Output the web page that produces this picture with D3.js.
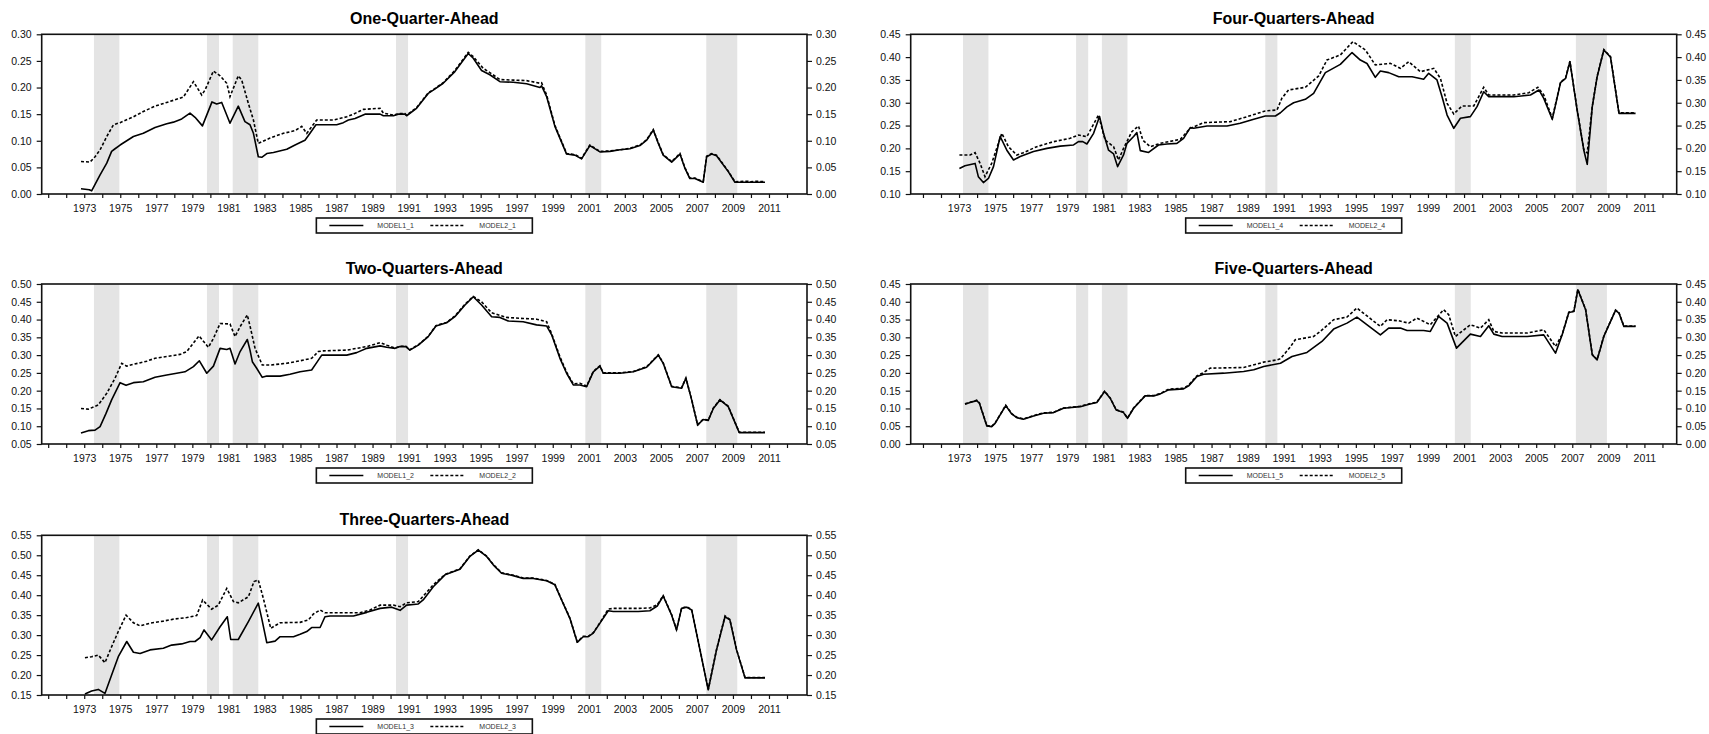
<!DOCTYPE html>
<html>
<head>
<meta charset="utf-8">
<script src="https://cdn.jsdelivr.net/npm/d3@7"></script>
<style>
  html, body { margin: 0; padding: 0; background: #fff; }
  svg { display: block; font-family: "Liberation Sans", Arial, sans-serif; }
</style>
</head>
<body>
<svg id="chart" width="1709" height="734"></svg>
<script>
// ---- Data: [decimal year, value] ----
const MODEL1_1 = [[1972.90,0.010],[1973.36,0.008],[1973.49,0.006],[1973.96,0.036],[1974.33,0.058],[1974.60,0.080],[1974.79,0.085],[1975.07,0.092],[1975.81,0.108],[1976.36,0.114],[1977.01,0.125],[1977.66,0.132],[1978.03,0.135],[1978.49,0.141],[1978.95,0.152],[1979.23,0.144],[1979.64,0.128],[1980.17,0.173],[1980.43,0.169],[1980.71,0.172],[1981.17,0.133],[1981.63,0.165],[1982.00,0.136],[1982.28,0.130],[1982.47,0.114],[1982.74,0.070],[1982.93,0.069],[1983.21,0.076],[1983.58,0.078],[1984.32,0.084],[1984.78,0.092],[1985.15,0.098],[1985.33,0.101],[1985.61,0.114],[1985.94,0.130],[1987.09,0.130],[1987.46,0.134],[1987.74,0.139],[1988.11,0.142],[1988.66,0.150],[1989.50,0.150],[1989.68,0.147],[1990.24,0.147],[1990.51,0.150],[1990.88,0.150],[1990.97,0.147],[1991.52,0.161],[1992.17,0.189],[1992.45,0.195],[1993.00,0.208],[1993.65,0.230],[1994.39,0.264],[1994.67,0.255],[1995.13,0.232],[1995.59,0.224],[1996.15,0.211],[1996.89,0.210],[1997.63,0.207],[1998.37,0.200],[1998.46,0.203],[1998.74,0.183],[1999.20,0.127],[1999.85,0.075],[2000.31,0.073],[2000.68,0.066],[2001.14,0.091],[2001.70,0.079],[2002.25,0.080],[2002.81,0.083],[2003.36,0.085],[2003.92,0.091],[2004.29,0.101],[2004.66,0.120],[2004.94,0.095],[2005.21,0.073],[2005.68,0.060],[2006.14,0.075],[2006.42,0.048],[2006.69,0.029],[2006.97,0.029],[2007.43,0.022],[2007.62,0.070],[2007.90,0.075],[2008.17,0.072],[2008.82,0.042],[2009.19,0.022],[2010.02,0.022],[2010.86,0.022]];
const MODEL2_1 = [[1972.90,0.061],[1973.40,0.060],[1973.68,0.070],[1973.96,0.083],[1974.33,0.108],[1974.70,0.130],[1975.07,0.134],[1975.81,0.145],[1976.36,0.155],[1977.01,0.165],[1977.66,0.172],[1978.12,0.177],[1978.58,0.182],[1979.14,0.211],[1979.60,0.186],[1979.78,0.195],[1980.25,0.231],[1980.62,0.222],[1980.99,0.208],[1981.17,0.183],[1981.63,0.222],[1981.82,0.214],[1982.19,0.170],[1982.47,0.139],[1982.74,0.095],[1983.39,0.105],[1984.13,0.114],[1984.78,0.119],[1985.15,0.127],[1985.43,0.114],[1985.98,0.139],[1986.91,0.139],[1987.65,0.145],[1988.02,0.150],[1988.57,0.159],[1989.50,0.161],[1989.68,0.152],[1990.24,0.148],[1990.51,0.151],[1990.88,0.151],[1990.97,0.148],[1991.52,0.162],[1992.17,0.190],[1992.45,0.196],[1993.00,0.209],[1993.65,0.232],[1994.39,0.266],[1994.67,0.258],[1995.22,0.236],[1995.59,0.228],[1996.15,0.215],[1996.89,0.214],[1997.63,0.213],[1998.37,0.208],[1998.46,0.209],[1998.74,0.186],[1999.20,0.129],[1999.85,0.076],[2000.31,0.074],[2000.68,0.067],[2001.14,0.092],[2001.70,0.080],[2002.25,0.081],[2002.81,0.083],[2003.36,0.086],[2003.92,0.092],[2004.29,0.102],[2004.66,0.121],[2004.94,0.096],[2005.21,0.074],[2005.68,0.061],[2006.14,0.076],[2006.42,0.049],[2006.69,0.030],[2006.97,0.030],[2007.43,0.023],[2007.62,0.071],[2007.90,0.076],[2008.17,0.073],[2008.82,0.043],[2009.19,0.023],[2009.93,0.024],[2010.02,0.023],[2010.40,0.024],[2010.86,0.023]];

const MODEL1_2 = [[1972.90,0.081],[1973.31,0.0875],[1973.68,0.089],[1973.96,0.099],[1974.29,0.136],[1974.60,0.174],[1975.07,0.2225],[1975.40,0.215],[1975.81,0.2225],[1976.36,0.225],[1977.01,0.2375],[1977.66,0.244],[1978.21,0.249],[1978.67,0.253],[1979.14,0.2675],[1979.47,0.284],[1979.88,0.249],[1980.25,0.269],[1980.62,0.319],[1980.99,0.316],[1981.17,0.319],[1981.45,0.275],[1981.73,0.310],[1982.13,0.344],[1982.28,0.314],[1982.41,0.2815],[1982.65,0.263],[1982.96,0.2375],[1983.21,0.241],[1983.95,0.241],[1984.50,0.246],[1985.06,0.253],[1985.70,0.258],[1985.98,0.279],[1986.26,0.300],[1987.65,0.300],[1988.20,0.307],[1988.76,0.319],[1989.50,0.326],[1989.87,0.322],[1990.33,0.319],[1990.60,0.324],[1990.93,0.324],[1991.15,0.314],[1991.62,0.328],[1992.17,0.352],[1992.60,0.382],[1993.19,0.391],[1993.65,0.408],[1994.21,0.441],[1994.67,0.464],[1995.13,0.441],[1995.69,0.408],[1996.15,0.406],[1996.61,0.396],[1997.44,0.394],[1998.18,0.385],[1998.74,0.382],[1999.02,0.357],[1999.48,0.291],[1999.85,0.249],[2000.22,0.216],[2000.59,0.216],[2000.96,0.211],[2001.33,0.253],[2001.70,0.269],[2001.88,0.249],[2002.81,0.249],[2003.55,0.253],[2004.29,0.266],[2004.94,0.300],[2005.21,0.277],[2005.68,0.211],[2006.23,0.207],[2006.47,0.235],[2006.79,0.174],[2007.12,0.103],[2007.43,0.119],[2007.71,0.116],[2007.99,0.150],[2008.36,0.174],[2008.82,0.155],[2009.43,0.082],[2010.86,0.082]];
const MODEL2_2 = [[1972.90,0.150],[1973.31,0.148],[1973.86,0.160],[1974.33,0.1925],[1974.79,0.235],[1975.16,0.277],[1975.44,0.269],[1975.81,0.274],[1976.55,0.283],[1977.01,0.291],[1977.66,0.296],[1978.40,0.302],[1978.77,0.310],[1979.45,0.354],[1979.97,0.322],[1980.25,0.347],[1980.62,0.389],[1981.17,0.3875],[1981.45,0.352],[1981.73,0.380],[1982.13,0.413],[1982.28,0.382],[1982.56,0.319],[1982.96,0.272],[1983.39,0.272],[1984.32,0.277],[1985.06,0.284],[1985.70,0.291],[1986.07,0.310],[1986.35,0.312],[1987.65,0.314],[1988.20,0.319],[1988.76,0.324],[1989.50,0.335],[1989.87,0.328],[1990.33,0.320],[1990.60,0.325],[1990.93,0.325],[1991.15,0.315],[1991.62,0.329],[1992.17,0.353],[1992.60,0.383],[1993.19,0.392],[1993.65,0.410],[1994.21,0.443],[1994.67,0.465],[1995.13,0.450],[1995.69,0.419],[1996.52,0.406],[1997.44,0.403],[1998.18,0.401],[1998.74,0.394],[1999.02,0.360],[1999.48,0.295],[1999.85,0.252],[2000.22,0.219],[2000.59,0.221],[2000.96,0.213],[2001.33,0.254],[2001.70,0.270],[2001.88,0.250],[2002.81,0.250],[2003.55,0.254],[2004.29,0.267],[2004.94,0.301],[2005.21,0.278],[2005.68,0.212],[2006.23,0.208],[2006.47,0.236],[2006.79,0.175],[2007.12,0.104],[2007.43,0.120],[2007.71,0.117],[2007.99,0.151],[2008.36,0.175],[2008.82,0.156],[2009.43,0.083],[2010.86,0.083]];

const MODEL1_3 = [[1973.12,0.1525],[1973.49,0.160],[1973.86,0.164],[1974.23,0.154],[1974.60,0.200],[1974.97,0.246],[1975.44,0.284],[1975.81,0.257],[1976.18,0.254],[1976.73,0.263],[1977.47,0.267],[1977.93,0.275],[1978.49,0.278],[1978.95,0.284],[1979.23,0.284],[1979.51,0.294],[1979.73,0.313],[1980.15,0.288],[1980.62,0.321],[1981.02,0.346],[1981.21,0.289],[1981.63,0.289],[1982.19,0.334],[1982.74,0.380],[1982.93,0.342],[1983.21,0.281],[1983.67,0.285],[1983.95,0.296],[1984.69,0.296],[1985.06,0.302],[1985.43,0.309],[1985.70,0.319],[1986.17,0.319],[1986.44,0.346],[1986.72,0.348],[1988.02,0.348],[1988.76,0.357],[1989.50,0.367],[1990.14,0.370],[1990.61,0.362],[1990.97,0.375],[1991.62,0.378],[1991.89,0.388],[1992.45,0.421],[1993.10,0.451],[1993.93,0.465],[1994.48,0.497],[1994.95,0.513],[1995.41,0.497],[1995.78,0.476],[1996.24,0.455],[1996.89,0.449],[1997.44,0.442],[1998.00,0.442],[1998.74,0.436],[1999.20,0.426],[1999.57,0.388],[2000.03,0.342],[2000.44,0.282],[2000.77,0.296],[2001.05,0.296],[2001.33,0.305],[2001.70,0.330],[2002.16,0.361],[2002.44,0.359],[2003.83,0.359],[2004.47,0.361],[2004.88,0.373],[2005.21,0.398],[2005.68,0.350],[2005.95,0.313],[2006.23,0.367],[2006.51,0.370],[2006.79,0.363],[2007.25,0.263],[2007.71,0.163],[2008.17,0.263],[2008.64,0.346],[2008.91,0.338],[2009.28,0.263],[2009.75,0.193],[2010.86,0.193]];
const MODEL2_3 = [[1973.12,0.2435],[1973.49,0.246],[1973.86,0.250],[1974.23,0.231],[1974.60,0.271],[1974.97,0.309],[1975.40,0.350],[1975.81,0.331],[1976.18,0.323],[1976.73,0.330],[1977.47,0.335],[1978.03,0.340],[1978.77,0.344],[1979.32,0.349],[1979.65,0.388],[1980.15,0.365],[1980.52,0.375],[1980.99,0.417],[1981.36,0.384],[1981.63,0.381],[1982.19,0.396],[1982.50,0.434],[1982.74,0.438],[1983.02,0.392],[1983.43,0.317],[1983.95,0.331],[1985.06,0.332],[1985.52,0.338],[1985.80,0.353],[1986.17,0.363],[1986.44,0.356],[1988.39,0.356],[1988.94,0.363],[1989.50,0.375],[1990.24,0.375],[1990.61,0.371],[1990.97,0.381],[1991.62,0.384],[1992.45,0.426],[1993.10,0.452],[1993.93,0.466],[1994.48,0.498],[1994.95,0.514],[1995.41,0.498],[1995.78,0.477],[1996.24,0.456],[1996.89,0.450],[1997.44,0.443],[1998.00,0.443],[1998.74,0.437],[1999.20,0.427],[1999.57,0.389],[2000.03,0.343],[2000.44,0.283],[2000.77,0.297],[2001.05,0.297],[2001.33,0.306],[2001.70,0.331],[2002.16,0.365],[2002.44,0.367],[2003.83,0.367],[2004.47,0.368],[2004.88,0.376],[2005.21,0.399],[2005.68,0.351],[2005.95,0.314],[2006.23,0.368],[2006.51,0.371],[2006.79,0.364],[2007.25,0.264],[2007.71,0.164],[2008.17,0.264],[2008.64,0.348],[2008.91,0.339],[2009.28,0.264],[2009.75,0.194],[2010.86,0.194]];

const MODEL1_4 = [[1973.42,0.156],[1973.73,0.162],[1974.29,0.167],[1974.47,0.138],[1974.75,0.125],[1975.03,0.134],[1975.31,0.160],[1975.68,0.226],[1976.05,0.196],[1976.42,0.1745],[1976.79,0.182],[1977.53,0.193],[1978.27,0.200],[1979.01,0.205],[1979.75,0.2075],[1980.02,0.2147],[1980.26,0.2147],[1980.49,0.2096],[1980.86,0.233],[1981.19,0.270],[1981.41,0.233],[1981.69,0.196],[1981.97,0.1877],[1982.19,0.160],[1982.52,0.1855],[1982.71,0.211],[1983.08,0.226],[1983.26,0.2345],[1983.45,0.195],[1983.91,0.191],[1984.46,0.2074],[1984.93,0.2096],[1985.48,0.211],[1985.85,0.222],[1986.22,0.2455],[1986.41,0.244],[1987.15,0.249],[1988.26,0.249],[1988.99,0.255],[1989.74,0.264],[1990.38,0.271],[1990.94,0.271],[1991.22,0.278],[1991.58,0.291],[1991.95,0.300],[1992.60,0.3075],[1993.06,0.3207],[1993.71,0.366],[1994.54,0.384],[1995.19,0.410],[1995.65,0.3935],[1996.02,0.386],[1996.48,0.3557],[1996.76,0.3696],[1997.22,0.366],[1997.78,0.357],[1998.52,0.357],[1999.16,0.3514],[1999.44,0.3645],[1999.90,0.350],[2000.18,0.3133],[2000.46,0.273],[2000.83,0.244],[2001.20,0.266],[2001.75,0.2695],[2002.12,0.2914],[2002.49,0.324],[2002.77,0.3133],[2004.16,0.3133],[2005.08,0.317],[2005.55,0.328],[2005.82,0.3096],[2006.29,0.2637],[2006.75,0.344],[2007.03,0.3535],[2007.27,0.390],[2007.67,0.284],[2008.04,0.196],[2008.23,0.165],[2008.51,0.2915],[2008.78,0.357],[2009.15,0.4156],[2009.52,0.400],[2009.99,0.2768],[2010.91,0.2768]];
const MODEL2_4 = [[1973.42,0.1855],[1974.01,0.1855],[1974.29,0.1906],[1974.57,0.167],[1974.84,0.138],[1975.21,0.167],[1975.77,0.233],[1976.14,0.2037],[1976.60,0.1855],[1976.97,0.1906],[1977.71,0.2037],[1978.64,0.2147],[1979.56,0.222],[1980.02,0.2293],[1980.49,0.2257],[1981.13,0.273],[1981.50,0.218],[1981.97,0.2037],[1982.24,0.1745],[1982.52,0.200],[1982.98,0.2366],[1983.35,0.249],[1983.59,0.218],[1984.00,0.2037],[1984.56,0.211],[1985.67,0.2198],[1986.22,0.244],[1986.96,0.2564],[1988.44,0.2586],[1989.37,0.2695],[1990.38,0.282],[1991.03,0.2841],[1991.30,0.310],[1991.67,0.328],[1992.60,0.3338],[1993.34,0.3587],[1993.80,0.3937],[1994.54,0.4047],[1995.24,0.434],[1995.93,0.4156],[1996.48,0.3828],[1997.31,0.3864],[1997.87,0.3754],[1998.33,0.390],[1998.98,0.368],[1999.72,0.3754],[2000.09,0.3535],[2000.46,0.2987],[2000.83,0.2754],[2001.29,0.293],[2001.94,0.293],[2002.49,0.3338],[2002.77,0.317],[2004.16,0.317],[2004.99,0.322],[2005.49,0.3338],[2005.82,0.317],[2006.29,0.266],[2006.75,0.345],[2007.03,0.3545],[2007.27,0.391],[2007.67,0.285],[2008.04,0.197],[2008.23,0.190],[2008.51,0.2925],[2008.78,0.358],[2009.15,0.4166],[2009.52,0.401],[2009.99,0.2778],[2010.91,0.2778]];

const MODEL1_5 = [[1973.73,0.112],[1974.01,0.1165],[1974.38,0.122],[1974.53,0.1146],[1974.94,0.0507],[1975.21,0.0489],[1975.40,0.0582],[1975.68,0.0817],[1975.99,0.108],[1976.32,0.0846],[1976.60,0.0742],[1976.97,0.0695],[1977.53,0.0789],[1978.08,0.0864],[1978.64,0.0883],[1979.19,0.1005],[1980.12,0.105],[1980.67,0.1127],[1981.04,0.1165],[1981.47,0.1475],[1981.78,0.1287],[1982.11,0.0958],[1982.52,0.0883],[1982.74,0.0723],[1983.08,0.1005],[1983.72,0.1353],[1984.19,0.1353],[1984.56,0.141],[1985.02,0.1522],[1985.85,0.155],[1986.13,0.1635],[1986.59,0.1898],[1986.96,0.1963],[1988.07,0.1992],[1989.18,0.2039],[1989.74,0.2086],[1990.29,0.218],[1991.22,0.2273],[1991.86,0.246],[1992.69,0.2574],[1993.52,0.2884],[1994.17,0.3232],[1994.91,0.340],[1995.46,0.357],[1996.76,0.307],[1997.22,0.326],[1997.87,0.326],[1998.24,0.3194],[1999.16,0.3194],[1999.53,0.3166],[1999.99,0.3588],[2000.46,0.340],[2000.98,0.2696],[2001.75,0.309],[2002.31,0.3025],[2002.77,0.3326],[2003.05,0.309],[2003.51,0.3025],[2004.90,0.3025],[2005.82,0.307],[2006.47,0.2555],[2006.84,0.307],[2007.21,0.370],[2007.49,0.3729],[2007.71,0.434],[2008.14,0.3776],[2008.51,0.2508],[2008.78,0.2367],[2009.15,0.3025],[2009.80,0.3758],[2009.99,0.3682],[2010.26,0.3307],[2010.91,0.3307]];
const MODEL2_5 = [[1973.73,0.113],[1974.01,0.1175],[1974.38,0.123],[1974.53,0.1156],[1974.94,0.0517],[1975.21,0.0499],[1975.40,0.0592],[1975.68,0.0827],[1975.99,0.109],[1976.32,0.0856],[1976.60,0.0752],[1976.97,0.0705],[1977.53,0.0799],[1978.08,0.0874],[1978.64,0.0893],[1979.19,0.1015],[1980.12,0.106],[1980.67,0.1137],[1981.04,0.1175],[1981.47,0.1485],[1981.78,0.1297],[1982.11,0.0968],[1982.52,0.0893],[1982.74,0.0733],[1983.08,0.1015],[1983.72,0.1363],[1984.19,0.1363],[1984.56,0.142],[1985.02,0.1542],[1985.85,0.157],[1986.13,0.1655],[1986.59,0.1918],[1986.96,0.201],[1987.33,0.2133],[1989.18,0.2151],[1990.29,0.2302],[1991.03,0.2367],[1991.22,0.240],[1991.76,0.2724],[1992.04,0.2931],[1993.06,0.3025],[1993.43,0.3166],[1994.17,0.3495],[1994.91,0.357],[1995.46,0.3824],[1996.76,0.3307],[1997.13,0.3495],[1997.78,0.3466],[1998.33,0.340],[1998.79,0.3541],[1999.53,0.3354],[2000.27,0.3777],[2000.55,0.3636],[2000.92,0.3025],[2001.75,0.3354],[2002.31,0.326],[2002.77,0.3495],[2003.05,0.3166],[2003.51,0.312],[2004.90,0.312],[2005.82,0.3213],[2006.47,0.2743],[2006.84,0.308],[2007.21,0.371],[2007.49,0.3739],[2007.71,0.435],[2008.14,0.3786],[2008.51,0.2518],[2008.78,0.2377],[2009.15,0.3035],[2009.80,0.3768],[2009.99,0.3692],[2010.26,0.3317],[2010.91,0.3317]];

// Shaded recession periods (start, end) in decimal years
const RECESSION_START = [1973.62, 1979.89, 1981.32, 1990.38, 2000.89, 2007.60];
const RECESSION_END   = [1975.03, 1980.56, 1982.74, 1991.05, 2001.77, 2009.32];

// Axis tick labels
const YEAR_LABELS = [1973,1975,1977,1979,1981,1983,1985,1987,1989,1991,1993,1995,1997,1999,2001,2003,2005,2007,2009,2011];
const YEAR_TICKS = d3.range(1971, 2013);
const TICKS_1 = [0.00,0.05,0.10,0.15,0.20,0.25,0.30];
const TICKS_2 = [0.05,0.10,0.15,0.20,0.25,0.30,0.35,0.40,0.45,0.50];
const TICKS_3 = [0.15,0.20,0.25,0.30,0.35,0.40,0.45,0.50,0.55];
const TICKS_4 = [0.10,0.15,0.20,0.25,0.30,0.35,0.40,0.45];
const TICKS_5 = [0.00,0.05,0.10,0.15,0.20,0.25,0.30,0.35,0.40,0.45];

// ---- Layout ----
const X_DOMAIN = [1970.72, 2013.19];
const COLS = [{x0: 41.7, x1: 807, labelShift: 0.08}, {x0: 910.7, x1: 1676.7, labelShift: 0.40}];
const ROWS = [{y0: 34.3, y1: 194}, {y0: 284, y1: 444}, {y0: 535.3, y1: 695}];

const panels = [
  {title: "One-Quarter-Ahead",   a: MODEL1_1, b: MODEL2_1, na: "MODEL1_1", nb: "MODEL2_1", ticks: TICKS_1, col: 0, row: 0},
  {title: "Two-Quarters-Ahead",  a: MODEL1_2, b: MODEL2_2, na: "MODEL1_2", nb: "MODEL2_2", ticks: TICKS_2, col: 0, row: 1},
  {title: "Three-Quarters-Ahead",a: MODEL1_3, b: MODEL2_3, na: "MODEL1_3", nb: "MODEL2_3", ticks: TICKS_3, col: 0, row: 2},
  {title: "Four-Quarters-Ahead", a: MODEL1_4, b: MODEL2_4, na: "MODEL1_4", nb: "MODEL2_4", ticks: TICKS_4, col: 1, row: 0},
  {title: "Five-Quarters-Ahead", a: MODEL1_5, b: MODEL2_5, na: "MODEL1_5", nb: "MODEL2_5", ticks: TICKS_5, col: 1, row: 1}
];

const svg = d3.select("#chart");
const fmt = d3.format(".2f");
const INK = "#111";

panels.forEach((p, i) => {
  const c = COLS[p.col], r = ROWS[p.row];
  const x = d3.scaleLinear().domain(X_DOMAIN).range([c.x0, c.x1]);
  const y = d3.scaleLinear().domain([p.ticks[0], p.ticks[p.ticks.length - 1]]).range([r.y1, r.y0]);
  const g = svg.append("g");

  const clipId = "clip" + i;
  g.append("clipPath").attr("id", clipId).append("rect")
    .attr("x", c.x0).attr("y", r.y0).attr("width", c.x1 - c.x0).attr("height", r.y1 - r.y0);

  // recession shading
  g.append("g").selectAll("rect").data(RECESSION_START).join("rect")
    .attr("x", (d) => x(d))
    .attr("width", (d, k) => x(RECESSION_END[k]) - x(d))
    .attr("y", r.y0).attr("height", r.y1 - r.y0)
    .attr("fill", "#e4e4e4");

  // series
  const line = d3.line().x((d) => x(d[0])).y((d) => y(d[1]));
  const lines = g.append("g").attr("clip-path", `url(#${clipId})`);
  lines.append("path").datum(p.a).attr("d", line)
    .attr("fill", "none").attr("stroke", "#000").attr("stroke-width", 1.6).attr("stroke-linejoin", "round");
  lines.append("path").datum(p.b).attr("d", line)
    .attr("fill", "none").attr("stroke", "#000").attr("stroke-width", 1.6).attr("stroke-dasharray", "3,2");

  // left and right value axes
  const left = d3.axisLeft(y).tickValues(p.ticks).tickFormat(fmt).tickSize(5).tickPadding(5);
  const right = d3.axisRight(y).tickValues(p.ticks).tickFormat(fmt).tickSize(5).tickPadding(4);
  [[left, c.x0], [right, c.x1]].forEach(([ax, px]) => {
    const a = g.append("g").attr("transform", `translate(${px},0)`).call(ax);
    a.select(".domain").remove();
    a.selectAll("line").attr("stroke", INK).attr("stroke-width", 1.2);
    a.selectAll("text").attr("font-size", "10.5px").attr("fill", INK)
      .attr("font-family", "'Liberation Sans', Arial, sans-serif");
  });

  // year axis
  const bottom = d3.axisBottom(x)
    .tickValues(YEAR_TICKS.map((yr) => yr + c.labelShift))
    .tickFormat((v) => {
      const yr = Math.round(v - c.labelShift);
      return YEAR_LABELS.includes(yr) ? String(yr) : "";
    })
    .tickSize(4).tickPadding(7);
  const b = g.append("g").attr("transform", `translate(0,${r.y1})`).call(bottom);
  b.select(".domain").remove();
  b.selectAll("line").attr("stroke", INK).attr("stroke-width", 1.2);
  b.selectAll("text").attr("font-size", "10.5px").attr("fill", INK)
    .attr("font-family", "'Liberation Sans', Arial, sans-serif");

  // frame
  g.append("rect").attr("x", c.x0).attr("y", r.y0)
    .attr("width", c.x1 - c.x0).attr("height", r.y1 - r.y0)
    .attr("fill", "none").attr("stroke", INK).attr("stroke-width", 1.6);

  // title
  const cx = (c.x0 + c.x1) / 2;
  g.append("text").attr("x", cx).attr("y", r.y0 - 10)
    .attr("text-anchor", "middle").attr("font-size", "16px").attr("font-weight", "bold")
    .attr("fill", "#000").text(p.title);

  // legend
  const lw = 216, lh = 15, lx = cx - lw / 2, ly = r.y1 + 24, my = ly + lh / 2;
  const lg = g.append("g");
  lg.append("rect").attr("x", lx).attr("y", ly).attr("width", lw).attr("height", lh)
    .attr("fill", "#fff").attr("stroke", INK).attr("stroke-width", 1.6);
  lg.append("line").attr("x1", lx + 13).attr("x2", lx + 47).attr("y1", my).attr("y2", my)
    .attr("stroke", "#000").attr("stroke-width", 1.4);
  lg.append("text").attr("x", lx + 61).attr("y", my + 2.5).attr("font-size", "7px").attr("fill", "#333").text(p.na);
  lg.append("line").attr("x1", lx + 114).attr("x2", lx + 149).attr("y1", my).attr("y2", my)
    .attr("stroke", "#000").attr("stroke-width", 1.4).attr("stroke-dasharray", "3,2");
  lg.append("text").attr("x", lx + 163).attr("y", my + 2.5).attr("font-size", "7px").attr("fill", "#333").text(p.nb);
});
</script>
</body>
</html>
